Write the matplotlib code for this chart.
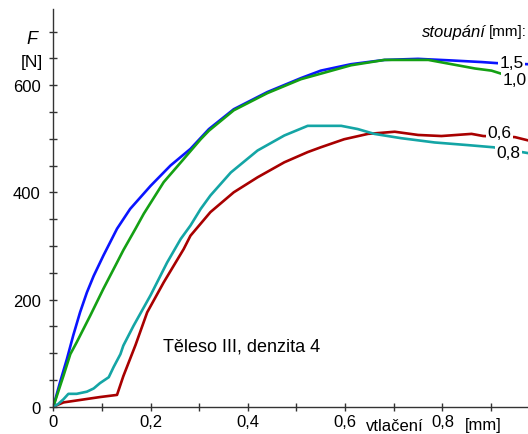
import numpy as np
import matplotlib
matplotlib.use('Agg')
import matplotlib.pyplot as plt

plt.rcParams['font.family'] = ['Liberation Sans', 'DejaVu Sans']

# data (vtlaceni [mm], F [N]) per stoupani
x15 = [0, 0.014, 0.028, 0.041, 0.055, 0.069, 0.083, 0.103, 0.117, 0.131, 0.158, 0.200,
       0.241, 0.282, 0.320, 0.371, 0.440, 0.509, 0.550, 0.612, 0.681, 0.750, 0.819,
       0.881, 0.912, 0.977]
y15 = [0, 46, 89, 133, 176, 213, 244, 282, 307, 332, 369, 412,
       450, 481, 518, 555, 587, 613, 627, 639, 647, 649, 646,
       643, 641, 639]

x10 = [0, 0.021, 0.035, 0.048, 0.076, 0.103, 0.131, 0.144, 0.169, 0.186, 0.227, 0.268,
       0.303, 0.320, 0.371, 0.440, 0.509, 0.612, 0.681, 0.771, 0.819, 0.867, 0.901,
       0.922, 0.977]
y10 = [0, 58, 98, 120, 170, 220, 269, 292, 332, 360, 419, 462,
       499, 515, 553, 585, 611, 637, 647, 647, 639, 631, 627,
       621, 605]

x08 = [0, 0.010, 0.021, 0.031, 0.048, 0.069, 0.083, 0.096, 0.114, 0.124, 0.138, 0.144,
       0.165, 0.200, 0.234, 0.262, 0.282, 0.303, 0.323, 0.365, 0.420, 0.475, 0.523,
       0.592, 0.626, 0.660, 0.715, 0.784, 0.853, 0.905, 0.977]
y08 = [0, 5, 14, 24, 24, 28, 34, 44, 55, 74, 98, 114,
       151, 208, 269, 313, 338, 369, 394, 437, 478, 506, 524,
       524, 518, 509, 501, 493, 488, 484, 473]

x06 = [0, 0.021, 0.096, 0.131, 0.144, 0.169, 0.193, 0.227, 0.268, 0.282, 0.323,
       0.371, 0.420, 0.475, 0.523, 0.550, 0.598, 0.647, 0.702, 0.750, 0.798, 0.860,
       0.884, 0.949, 0.980]
y06 = [0, 8, 18, 22, 57, 115, 176, 232, 294, 319, 363,
       400, 428, 456, 475, 484, 499, 509, 513, 507, 505, 509,
       505, 503, 496]

serie = [(x15, y15, '#0a14ff', '1,5', 0.942, 643),
         (x10, y10, '#14a014', '1,0', 0.948, 610),
         (x06, y06, '#a80000', '0,6', 0.918, 512),
         (x08, y08, '#14a5a5', '0,8', 0.936, 475)]

W, H = 528, 435
fig = plt.figure(figsize=(W / 100, H / 100), dpi=100)
ax = fig.add_axes([53.3 / W, 1 - 407.7 / H, 1 - 53.3 / W, (407.7 - 10) / H])

for xs, ys, c, lab, tx, ty in serie:
    ax.plot(xs, ys, color=c, lw=1.9, solid_joinstyle='round')
for xs, ys, c, lab, tx, ty in serie:
    ax.text(tx, ty, lab, fontsize=12.5, ha='center', va='center',
            bbox=dict(facecolor='white', edgecolor='none', pad=1))

ax.set_xlim(0, 0.976)
ax.set_ylim(0, 742)
for s in ['top', 'right']:
    ax.spines[s].set_visible(False)
for s in ['left', 'bottom']:
    ax.spines[s].set_color('#333333')
    ax.spines[s].set_linewidth(1.0)

ax.set_xticks(np.arange(0, 0.95, 0.1))
ax.set_xticklabels(['0', '', '0,2', '', '0,4', '', '0,6', '', '0,8', ''])
ax.set_yticks(np.arange(0, 750, 50))
ax.set_yticklabels(['' if v % 200 else str(v) for v in range(0, 750, 50)])
ax.tick_params(direction='inout', length=6, width=1, color='#333333',
               labelsize=12, pad=2)
ax.tick_params(axis='y', pad=6)

ax.text(0.226, 113, 'Těleso III, denzita 4', fontsize=13, va='center')

fig.text(37 / W, 1 - 40 / H, 'F', fontsize=13, style='italic', ha='right', va='center')
fig.text(43 / W, 1 - 62 / H, '[N]', fontsize=12.5, ha='right', va='center')
fig.text(395 / W, 1 - 427 / H, 'vtlačení', fontsize=12, ha='center', va='center')
fig.text(483 / W, 1 - 426 / H, '[mm]', fontsize=12, ha='center', va='center')
fig.text(486 / W, 1 - 32 / H, 'stoupání', fontsize=12, style='italic', ha='right', va='center')
fig.text(527 / W, 1 - 32 / H, '[mm]:', fontsize=11, ha='right', va='center')

fig.savefig('out.png', dpi=100)
